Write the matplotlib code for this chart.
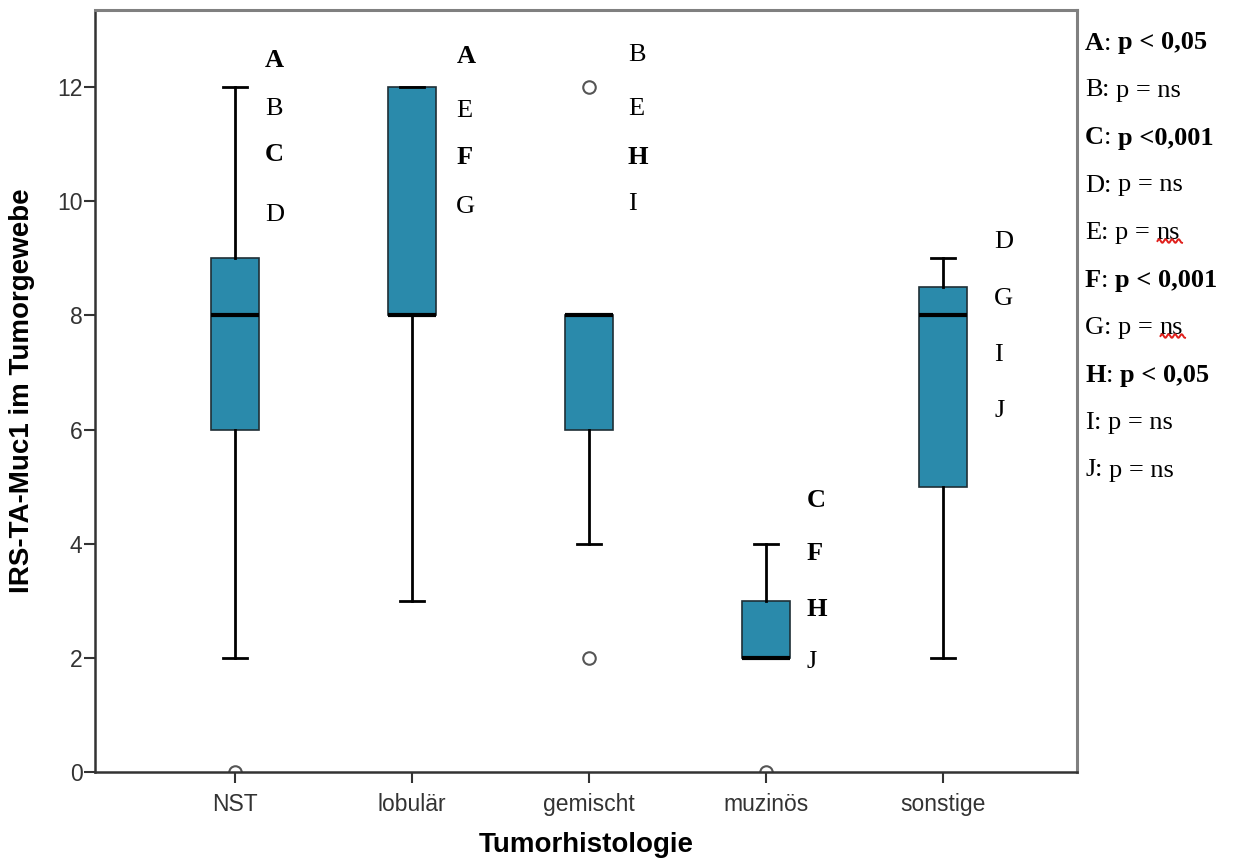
import numpy as np
import matplotlib
matplotlib.use("Agg")
import matplotlib.pyplot as plt
from matplotlib.lines import Line2D

# IRS score of TA-Muc1 per tumour histology
categories = ["NST", "lobulär", "gemischt", "muzinös", "sonstige"]
whislo = [2, 3, 4, 2, 2]
q1 = [6, 8, 6, 2, 5]
med = [8, 8, 8, 2, 8]
q3 = [9, 12, 8, 3, 8.5]
whishi = [12, 12, 8, 4, 9]
fliers = [[0], [], [12, 2], [0], []]

# pairwise comparison tags next to each box (letter, y position)
group_tags = [
    [("A", 12.46), ("B", 11.62), ("C", 10.81), ("D", 9.76)],
    [("A", 12.54), ("E", 11.58), ("F", 10.76), ("G", 9.90)],
    [("B", 12.56), ("E", 11.62), ("H", 10.76), ("I", 9.95)],
    [("C", 4.75), ("F", 3.82), ("H", 2.84), ("J", 1.93)],
    [("D", 9.29), ("G", 8.29), ("I", 7.31), ("J", 6.32)],
]
tag_dx = [0.17, 0.25, 0.22, 0.23, 0.29]

# p-values of the comparisons
legend_letters = ["A", "B", "C", "D", "E", "F", "G", "H", "I", "J"]
legend_pvals = ["p < 0,05", "p = ns", "p <0,001", "p = ns", "p = ns",
                "p < 0,001", "p = ns", "p < 0,05", "p = ns", "p = ns"]
significant = {"A", "C", "F", "H"}
spell_marked = {"E", "G"}   # lines with the red squiggle under "ns"

BOX = "#2a8aab"
SERIF = ["Liberation Serif", "DejaVu Serif"]
SANS = ["Liberation Sans", "DejaVu Sans"]
FS = 19

fig = plt.figure(figsize=(12.4, 8.66), dpi=100)
ax = fig.add_axes([95 / 1240, 1 - 772 / 866, (1077 - 95) / 1240, (772 - 10) / 866])

stats = []
for i, name in enumerate(categories):
    stats.append(dict(label=name, whislo=whislo[i], q1=q1[i], med=med[i],
                      q3=q3[i], whishi=whishi[i], fliers=fliers[i]))

ax.bxp(stats, positions=np.arange(1, 6), widths=0.27, patch_artist=True,
       boxprops=dict(facecolor=BOX, edgecolor="#1f2f36", linewidth=1.2),
       medianprops=dict(color="black", linewidth=3.0, solid_capstyle="butt"),
       whiskerprops=dict(color="black", linewidth=2.0),
       capprops=dict(color="black", linewidth=2.0),
       capwidths=0.135,
       flierprops=dict(marker="o", markersize=9, markerfacecolor="white",
                       markeredgecolor="#555555", markeredgewidth=1.5))

ax.set_xlim(0.209, 5.757)
ax.set_ylim(0, 13.35)
ax.set_yticks([0, 2, 4, 6, 8, 10, 12])
ax.tick_params(axis="both", direction="out", length=8, width=1.5, color="#333333",
               labelcolor="#333333", labelsize=16.5)
for lab in ax.get_xticklabels() + ax.get_yticklabels():
    lab.set_family(SANS)
ax.tick_params(axis="x", pad=7)
ax.tick_params(axis="y", pad=1)

for side in ("left", "bottom"):
    ax.spines[side].set_color("#333333")
    ax.spines[side].set_linewidth(1.8)
for side in ("top", "right"):
    ax.spines[side].set_color("#808080")
    ax.spines[side].set_linewidth(2.2)

ax.set_xlabel("Tumorhistologie", fontsize=20, fontweight="bold", family=SANS,
              labelpad=12)
ax.set_ylabel("IRS-TA-Muc1 im Tumorgewebe", fontsize=20, fontweight="bold",
              family=SANS, labelpad=16)

for i, tags in enumerate(group_tags):
    for letter, y in tags:
        ax.text(i + 1 + tag_dx[i], y, letter, ha="left", va="center",
                fontsize=FS, family=SERIF,
                fontweight="bold" if letter in significant else "normal")

# p-value key at the right side of the frame
y0 = 1 - 43 / 866
step = 47.5 / 866
squiggle_texts = []
for k, (letter, pval) in enumerate(zip(legend_letters, legend_pvals)):
    w = "bold" if letter in significant else "normal"
    t1 = fig.text(1085 / 1240, y0 - k * step, letter, ha="left", va="center",
                  fontsize=FS, family=SERIF, fontweight=w)
    t2 = ax.annotate(": ", xy=(1, 0), xycoords=t1, ha="left", va="bottom",
                     fontsize=FS, family=SERIF, annotation_clip=False)
    if letter in spell_marked:
        head, tail = pval[:-2], pval[-2:]
        t3 = ax.annotate(head, xy=(1, 0), xycoords=t2, ha="left", va="bottom",
                         fontsize=FS, family=SERIF, annotation_clip=False)
        t4 = ax.annotate(tail, xy=(1, 0), xycoords=t3, ha="left", va="bottom",
                         fontsize=FS, family=SERIF, annotation_clip=False)
        squiggle_texts.append(t4)
    else:
        ax.annotate(pval, xy=(1, 0), xycoords=t2, ha="left", va="bottom",
                    fontsize=FS, family=SERIF, fontweight=w, annotation_clip=False)

# red wavy underline below "ns"
fig.canvas.draw()
W, H = fig.get_size_inches() * fig.dpi
for t in squiggle_texts:
    bb = t.get_window_extent()
    xs = np.linspace(bb.x0 + 1, bb.x1 + 2, 40)
    base = bb.y0 + 3
    ys = base + 1.8 * np.sin((xs - xs[0]) / 6.5 * 2 * np.pi)
    fig.add_artist(Line2D(xs / W, ys / H, transform=fig.transFigure,
                          color="#e0201c", linewidth=1.4))

fig.savefig("out.png", dpi=100, facecolor="white")
